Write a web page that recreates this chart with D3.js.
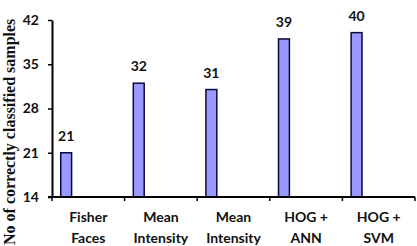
<!DOCTYPE html>
<html><head><meta charset="utf-8">
<script src="https://cdn.jsdelivr.net/npm/d3@7"></script>
<style>body{margin:0;background:#fff}svg{display:block}</style>
</head><body>
<script>
const categories = [["Fisher","Faces"],["Mean","Intensity"],["Mean","Intensity"],["HOG +","ANN"],["HOG +","SVM"]];
const values = [21, 32, 31, 39, 40];
const yTicks = [14, 21, 28, 35, 42];
const yTitle = "No of correctly classified samples";

const W = 417, H = 246;
const m = {left: 52, right: 2, top: 20, bottom: 49};
const svg = d3.select("body").append("svg").attr("width", W).attr("height", H);

const x = d3.scaleBand().domain(d3.range(values.length)).range([m.left, W - m.right]);
const y = d3.scaleLinear().domain([14, 42]).range([H - m.bottom, m.top]);

const font = "Lato, 'Open Sans', sans-serif";

// bars
const bw = x.bandwidth() * 0.15;
const off = x.bandwidth() * 0.12;
svg.selectAll("rect.bar").data(values).enter().append("rect")
  .attr("class", "bar")
  .attr("x", (d, i) => x(i) + off)
  .attr("y", d => y(d))
  .attr("width", bw)
  .attr("height", d => y(14) - y(d))
  .attr("fill", "#9999ff")
  .attr("stroke", "#0a0a3a")
  .attr("stroke-width", 1.5);

// value labels
svg.selectAll("text.val").data(values).enter().append("text")
  .attr("x", (d, i) => x(i) + off + bw / 2)
  .attr("y", d => y(d) - 12)
  .attr("text-anchor", "middle")
  .attr("font-family", font).attr("font-weight", "bold").attr("font-size", 14)
  .attr("fill", "#111")
  .text(d => d);

// y axis
const ya = svg.append("g").attr("transform", `translate(${m.left},0)`)
  .call(d3.axisLeft(y).tickValues(yTicks).tickSize(4).tickPadding(9).tickSizeOuter(0));
ya.select(".domain").attr("stroke", "#000").attr("stroke-width", 2);
ya.selectAll(".tick line").attr("stroke", "#000").attr("stroke-width", 1.5);
ya.selectAll(".tick text").attr("font-family", font).attr("font-weight", "bold")
  .attr("font-size", 14).attr("fill", "#111");

// x axis
const xa = svg.append("g").attr("transform", `translate(0,${y(14)})`);
xa.append("line").attr("x1", m.left - 4).attr("x2", W - m.right)
  .attr("stroke", "#000").attr("stroke-width", 2);
const bounds = d3.range(values.length + 1).map(i => m.left + i * x.step());
xa.selectAll("line.t").data(bounds).enter().append("line")
  .attr("x1", d => d).attr("x2", d => d).attr("y1", 0).attr("y2", 4)
  .attr("stroke", "#000").attr("stroke-width", 1.5);

// category labels
categories.forEach((c, i) => {
  c.forEach((line, j) => {
    svg.append("text")
      .attr("x", x(i) + x.bandwidth() / 2)
      .attr("y", 222 + j * 21)
      .attr("text-anchor", "middle")
      .attr("font-family", font).attr("font-weight", "bold").attr("font-size", 14)
      .attr("fill", "#111")
      .text(line);
  });
});

// y title
svg.append("text")
  .attr("transform", "translate(15,245) rotate(-90)")
  .attr("font-family", "'Liberation Serif', 'DejaVu Serif', serif")
  .attr("font-weight", "bold").attr("font-size", 16)
  .attr("fill", "#111")
  .text(yTitle);
</script>
</body></html>
